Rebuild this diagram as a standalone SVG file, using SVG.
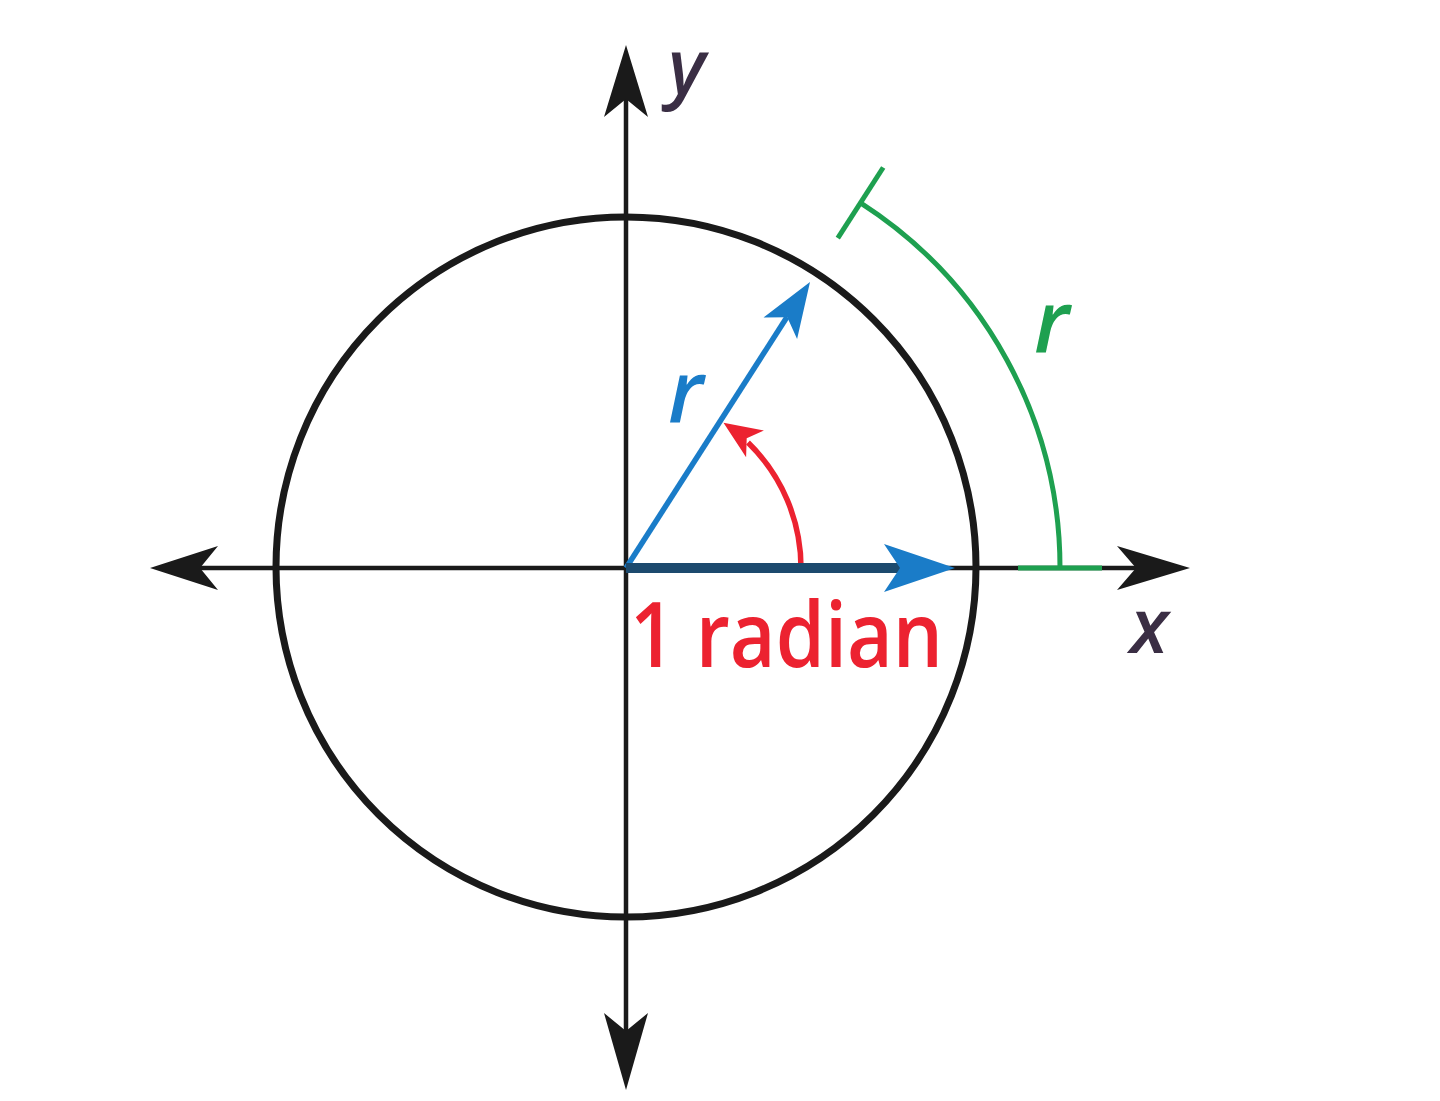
<svg xmlns="http://www.w3.org/2000/svg" width="1440" height="1101" viewBox="0 0 1440 1101">
<style>
.axis{stroke:#1a1a1a;stroke-width:4.5;fill:none}
.head{fill:#1a1a1a}
.circ{stroke:#1a1a1a;stroke-width:7;fill:none}
.blue{stroke:#1a7cc8;stroke-width:5.5;fill:none}
.bluef{fill:#1a7cc8}
.red{stroke:#ec2230;stroke-width:5.5;fill:none}
.redf{fill:#ec2230}
.green{stroke:#1ea050;stroke-width:5;fill:none}
.lab{font-family:"Open Sans","Liberation Sans",sans-serif;font-style:italic;font-weight:600}
</style>
<rect width="1440" height="1101" fill="#ffffff"/>
<g id="circle">
<circle class="circ" cx="626" cy="567" r="350"/>
</g>
<g id="axes">
<line class="axis" x1="170" y1="568" x2="1170" y2="568"/>
<line class="axis" x1="626" y1="65" x2="626" y2="1070"/>
<path class="head" d="M1190,568 L1117,546 L1136,568 L1117,590 Z"/>
<path class="head" d="M150,568 L218,546 L200,568 L218,590 Z"/>
<path class="head" d="M626,45 L604,117 L626,99 L648,117 Z"/>
<path class="head" d="M626,1090 L604,1013 L626,1031 L648,1013 Z"/>
<text class="lab" x="668" y="94" font-size="76" fill="#3a2e44">y</text>
<text class="lab" x="1130" y="653" font-size="76" fill="#3a2e44">x</text>
</g>
<g id="angle">
<path class="red" d="M801,568 A175,175 0 0 0 748,442.5"/>
<path class="redf" d="M723.5,422.7 L763.9,430.6 L746.7,438.3 L746.1,457.2 Z"/>
<text x="630" y="667" font-family="'Open Sans','Liberation Sans',sans-serif" font-weight="600" font-size="90" fill="#ec2230" textLength="313" lengthAdjust="spacingAndGlyphs">1 radian</text>
</g>
<g id="radius">
<line class="blue" x1="626" y1="568" x2="787" y2="317"/>
<path class="bluef" d="M810,282 L797.1,339.1 L787.3,317.3 L763.5,317.5 Z"/>
<text class="lab" x="668" y="423" font-size="86" fill="#1a7cc8">r</text>
<line x1="626" y1="568" x2="905" y2="568" stroke="#1c4a6e" stroke-width="10"/>
<path class="bluef" d="M955,568 L884,544 L900,568 L884,592 Z"/>
</g>
<g id="arc">
<path class="green" d="M1060,568 A434,434 0 0 0 860.5,202.8"/>
<line class="green" x1="1018" y1="568" x2="1102" y2="568"/>
<line class="green" x1="837.8" y1="238.1" x2="883.2" y2="167.5"/>
<text class="lab" x="1034" y="353" font-size="86" fill="#1ea050">r</text>
</g>
</svg>
